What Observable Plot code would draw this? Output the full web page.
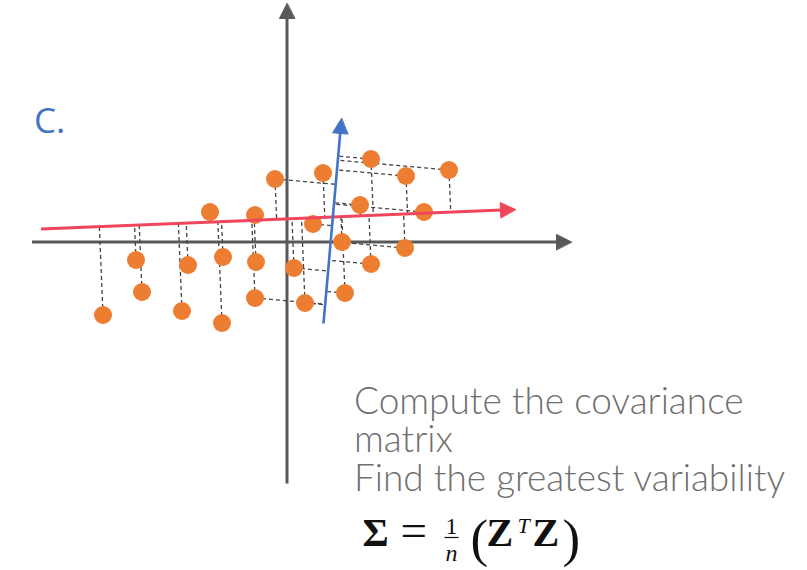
<!DOCTYPE html>
<html>
<head>
<meta charset="utf-8">
<script src="https://cdn.jsdelivr.net/npm/d3@7"></script>
<script src="https://cdn.jsdelivr.net/npm/@observablehq/plot@0.6"></script>
<style>
  html, body { margin: 0; padding: 0; background: #ffffff; }
  #chart svg { display: block; }
</style>
</head>
<body>
<div id="chart"></div>
<script>
// Sample observations (chart units, origin at the crossing of the axes)
const sampleX = [-9.2, -7.55, -7.25, -5.25, -4.95, -3.85, -3.2, -3.25, -1.6, -1.55, -1.6, -0.6, 0.35,
                 1.8, 4.2, 5.95, 8.1, 3.65, 6.85, 1.3, 2.75, 5.9, 4.2, 2.9, 0.9];
const sampleY = [-3.65, -0.9, -2.5, -3.45, -1.15, 1.5, -0.75, -4.05, 1.35, -1.0, -2.8, 3.15, -1.3,
                 3.45, 4.15, 3.3, 3.6, 1.85, 1.5, 0.9, 0.0, -0.3, -1.1, -2.55, -3.05];

// Observations whose projection onto the second component is shown
const projectedOnSecond = [10, 11, 12, 14, 15, 16, 17, 18, 19, 21, 22, 23, 24];

// Coordinate axes: start and arrow tip
const axisStart = [[-12.75, 0], [0, -12.075]];
const axisTip   = [[14.225, 0], [0, 11.925]];

// Principal directions: start and arrow tip
const firstComponent  = {start: [-12.3, 0.65], tip: [11.425, 1.625]};
const secondComponent = {start: [1.825, -4.075], tip: [2.725, 6.175]};

// Annotation text
const panelLabel = {text: "C.", x: -12.65, y: 5.475};
const noteLines = ["Compute the covariance", "matrix", "Find the greatest variability"];
const notePos = {x: 3.35, y: -12.425};
const formulaPos = {x: 3.775, y: -15.175};
const formulaTokens = [
  {text: "Σ", dx: 0,    dy: 0,     size: 40, weight: "bold",   italic: false, anchor: "start"},
  {text: "=", dx: 1.9,  dy: 0,     size: 47, weight: "normal", italic: false, anchor: "start"},
  {text: "1", dx: 4.45, dy: 0.6,   size: 24, weight: "normal", italic: false, anchor: "middle"},
  {text: "n", dx: 4.45, dy: -0.75, size: 24, weight: "normal", italic: true,  anchor: "middle"},
  {text: "(", dx: 5.4,  dy: -0.5,  size: 53, weight: "normal", italic: false, anchor: "start"},
  {text: "Z", dx: 6.2,  dy: 0,     size: 40, weight: "bold",   italic: false, anchor: "start"},
  {text: "T", dx: 7.75, dy: 0.65,  size: 22, weight: "normal", italic: true,  anchor: "start"},
  {text: "Z", dx: 8.5,  dy: 0,     size: 40, weight: "bold",   italic: false, anchor: "start"},
  {text: ")", dx: 10.0, dy: -0.5,  size: 53, weight: "normal", italic: false, anchor: "start"}
];
const fractionBar = {dx1: 4.1, dx2: 4.8, dy: 0.4};

// Styling
const W = 807, H = 570, PX_PER_UNIT = 20;
const originPx = [286.5, 241.5];
const axisColor = "#595959";
const pointColor = "#ed7d31";
const firstColor = "#f0465c";
const secondColor = "#4472c4";
const dashColor = "#444444";
const HEAD_LEN = 0.75, HEAD_HALF = 0.38;

const points = sampleX.map((x, i) => ({x, y: sampleY[i], i}));

// Orthogonal foot of a point on the line through a and b
function foot(p, a, b) {
  const ux = b[0] - a[0], uy = b[1] - a[1];
  const t = ((p.x - a[0]) * ux + (p.y - a[1]) * uy) / (ux * ux + uy * uy);
  return {x: a[0] + t * ux, y: a[1] + t * uy};
}

// Shaft and filled head for an arrow from a to tip
function arrowMarks(a, tip, color, width) {
  const dx = tip[0] - a[0], dy = tip[1] - a[1], L = Math.hypot(dx, dy);
  const ux = dx / L, uy = dy / L;
  const bx = tip[0] - ux * HEAD_LEN, by = tip[1] - uy * HEAD_LEN;
  const shaft = [{x1: a[0], y1: a[1], x2: bx + ux * 0.05, y2: by + uy * 0.05}];
  const head = [
    {x: tip[0], y: tip[1]},
    {x: bx - uy * HEAD_HALF, y: by + ux * HEAD_HALF},
    {x: bx + uy * HEAD_HALF, y: by - ux * HEAD_HALF}
  ];
  return [
    Plot.link(shaft, {x1: "x1", y1: "y1", x2: "x2", y2: "y2", stroke: color, strokeWidth: width}),
    Plot.line(head, {x: "x", y: "y", fill: color, stroke: color, strokeWidth: 1, curve: "linear-closed"})
  ];
}

const toFirst = points.map(p => {
  const f = foot(p, firstComponent.start, firstComponent.tip);
  return {x1: p.x, y1: p.y, x2: f.x, y2: f.y};
});
const toSecond = projectedOnSecond.map(i => {
  const p = points[i];
  const f = foot(p, secondComponent.start, secondComponent.tip);
  return {x1: p.x, y1: p.y, x2: f.x, y2: f.y};
});

const xDomain = [-originPx[0] / PX_PER_UNIT, (W - originPx[0]) / PX_PER_UNIT];
const yDomain = [-(H - originPx[1]) / PX_PER_UNIT, originPx[1] / PX_PER_UNIT];

const chart = Plot.plot({
  width: W,
  height: H,
  margin: 0,
  style: {background: "#ffffff", overflow: "visible"},
  x: {domain: xDomain, axis: null},
  y: {domain: yDomain, axis: null},
  marks: [
    // coordinate axes
    ...axisStart.flatMap((s, k) => arrowMarks(s, axisTip[k], axisColor, 3)),
    // projection lines
    Plot.link(toFirst, {x1: "x1", y1: "y1", x2: "x2", y2: "y2", stroke: dashColor, strokeWidth: 1.3, strokeDasharray: "4,3"}),
    Plot.link(toSecond, {x1: "x1", y1: "y1", x2: "x2", y2: "y2", stroke: dashColor, strokeWidth: 1.3, strokeDasharray: "4,3"}),
    // observations
    Plot.dot(points, {x: "x", y: "y", r: 9, fill: pointColor, stroke: "none"}),
    // principal directions
    ...arrowMarks(firstComponent.start, firstComponent.tip, firstColor, 3),
    ...arrowMarks(secondComponent.start, secondComponent.tip, secondColor, 2.6),
    // panel label
    Plot.text([panelLabel], {x: "x", y: "y", text: "text", textAnchor: "start", lineAnchor: "bottom",
      fontSize: 35, fontFamily: "Open Sans", fill: secondColor}),
    // notes
    Plot.text([{x: notePos.x, y: notePos.y, text: noteLines.join("\n")}], {
      x: "x", y: "y", text: "text", textAnchor: "start", lineAnchor: "bottom",
      fontSize: 37, lineHeight: 38.5 / 37, fontFamily: "Lato", fontWeight: 300, fill: "#6f6f6f"}),
    // covariance formula
    ...formulaTokens.map(t => Plot.text([{x: formulaPos.x + t.dx, y: formulaPos.y + t.dy, text: t.text}], {
      x: "x", y: "y", text: "text", textAnchor: t.anchor, lineAnchor: "bottom",
      fontSize: t.size, fontWeight: t.weight, fontStyle: t.italic ? "italic" : "normal",
      fontFamily: "Liberation Serif", fill: "#111111"})),
    Plot.link([{x1: formulaPos.x + fractionBar.dx1, x2: formulaPos.x + fractionBar.dx2, y: formulaPos.y + fractionBar.dy}],
      {x1: "x1", x2: "x2", y1: "y", y2: "y", stroke: "#111111", strokeWidth: 1.2})
  ]
});

document.getElementById("chart").appendChild(chart);
</script>
</body>
</html>
